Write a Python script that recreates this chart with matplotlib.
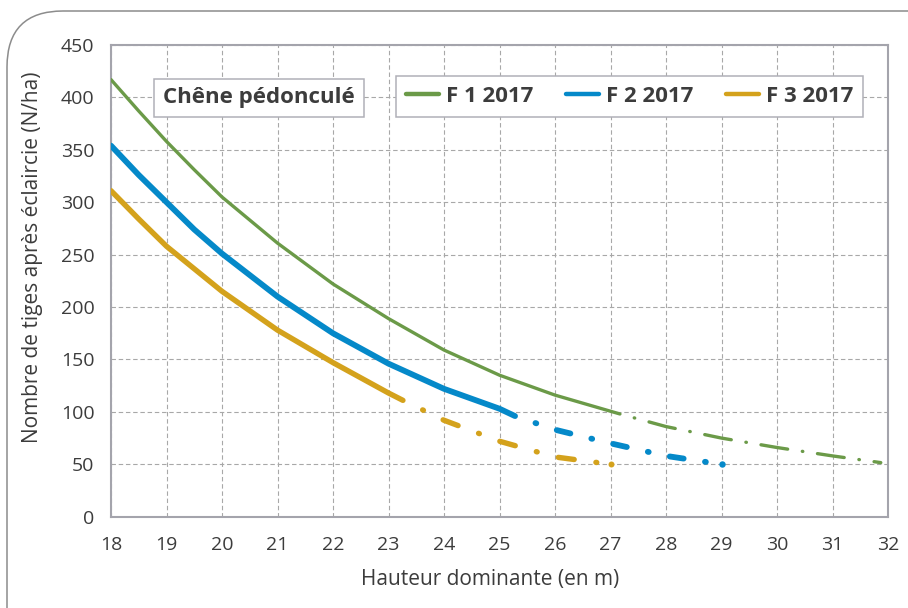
import matplotlib
matplotlib.use("Agg")
import matplotlib.pyplot as plt
from matplotlib.lines import Line2D
from matplotlib.patches import FancyBboxPatch
from matplotlib.transforms import IdentityTransform

plt.rcParams['font.family'] = ['Open Sans', 'DejaVu Sans']

# F1 (green): solid part then the extrapolated dash-dot tail
f1_x = [18, 18.5, 19, 19.5, 20, 21, 22, 23, 24, 25, 26, 27.17]
f1_y = [417, 387, 358, 331, 305, 261, 222, 189, 159, 135, 116, 98]
f1_tail_x = [27.17, 28, 29, 30, 31, 31.87]
f1_tail_y = [98, 86, 75, 66, 58, 51.6]

# F2 (blue)
f2_x = [18, 18.5, 19, 19.5, 20, 21, 22, 23, 24, 25, 25.28]
f2_y = [354, 326, 300, 274, 251, 210, 175, 146, 122, 103, 96]
f2_tail_x = [25.28, 26, 27, 28, 29]
f2_tail_y = [96, 83, 70, 58, 50]

# F3 (gold)
f3_x = [18, 18.5, 19, 20, 21, 22, 23, 23.26]
f3_y = [311, 284, 258, 215, 178, 147, 118, 111]
f3_tail_x = [23.26, 24, 25, 26, 27]
f3_tail_y = [111, 92, 72, 57, 50]

labels = ["F 1 2017", "F 2 2017", "F 3 2017"]
colors = ["#6b9a48", "#0589c9", "#d4a21c"]
x_ticks = list(range(18, 33))
y_ticks = list(range(0, 451, 50))

TXT = "#3c3c3c"

fig = plt.figure(figsize=(9.08, 6.08), dpi=100)

# outer frame with rounded top-left corner (other corners are off-canvas)
frame = FancyBboxPatch((7, -60), 1100, 657, boxstyle="round,pad=0,rounding_size=56",
                       transform=IdentityTransform(), facecolor="none",
                       edgecolor="#8c8c8c", linewidth=1.1, clip_on=False)
fig.add_artist(frame)

ax = fig.add_axes([111 / 908, 1 - 516.7 / 608, 777 / 908, 471.7 / 608])


def dashdot(dash, gap):
    # gap first, so the tail starts right after the solid end
    return (dash, (dash, gap, 0.15, gap))


series = [
    (f1_x, f1_y, f1_tail_x, f1_tail_y, 2.4, dashdot(8.1, 4.45), False),
    (f2_x, f2_y, f2_tail_x, f2_tail_y, 4.2, dashdot(2.4, 3.7), True),
    (f3_x, f3_y, f3_tail_x, f3_tail_y, 3.9, dashdot(2.95, 4.05), True),
]
for (sx, sy, tx, ty, lw, ls, end_dot), c in zip(series, colors):
    ax.plot(sx, sy, color=c, lw=lw, solid_capstyle="round", zorder=3)
    ax.plot(tx, ty, color=c, lw=lw, linestyle=ls, dash_capstyle="round", zorder=3)
    if end_dot:
        ax.plot(tx[-1:], ty[-1:], "o", color=c, ms=lw * 1.1, mew=0, zorder=3)

ax.set_xlim(18, 32)
ax.set_ylim(0, 450)
ax.set_xticks(x_ticks)
ax.set_yticks(y_ticks)
ax.tick_params(length=0, labelsize=14, labelcolor=TXT)
ax.tick_params(axis="x", pad=14)
ax.tick_params(axis="y", pad=12)
ax.grid(True, color="#a8a8a8", lw=0.8, linestyle=(0, (4, 2.5)), zorder=0)
ax.set_axisbelow(True)
for sp in ax.spines.values():
    sp.set_color("#a4a4ac")
    sp.set_linewidth(1.5)

ax.set_xlabel("Hauteur dominante (en m)", fontsize=15, color=TXT)
ax.set_ylabel("Nombre de tiges après éclaircie (N/ha)", fontsize=15, color=TXT)
ax.xaxis.set_label_coords(0.488, -0.11)
ax.yaxis.set_label_coords(-0.088, 0.55)

# species box
fig.text(259 / 908, 1 - 98 / 608, "Chêne pédonculé", fontsize=16, fontweight="bold",
         color=TXT, ha="center", va="center",
         bbox=dict(boxstyle="square,pad=0.4", facecolor="white", edgecolor="#b0b0b8", linewidth=1.1))

handles = [Line2D([], [], color=c, lw=3.2, solid_capstyle="round") for c in colors]
leg = ax.legend(handles, labels, ncol=3, loc="center", mode="expand",
                bbox_to_anchor=(396 / 908, 1 - 118.3 / 608, 467 / 908, 43.3 / 608),
                bbox_transform=fig.transFigure, borderaxespad=0, fancybox=False, framealpha=1,
                edgecolor="#b0b0b8", handlelength=1.5, handletextpad=0.3,
                borderpad=0.45, prop=dict(size=16, weight="bold"))
for t in leg.get_texts():
    t.set_color(TXT)
leg.get_frame().set_linewidth(1.1)

fig.savefig("out.png", dpi=100)
